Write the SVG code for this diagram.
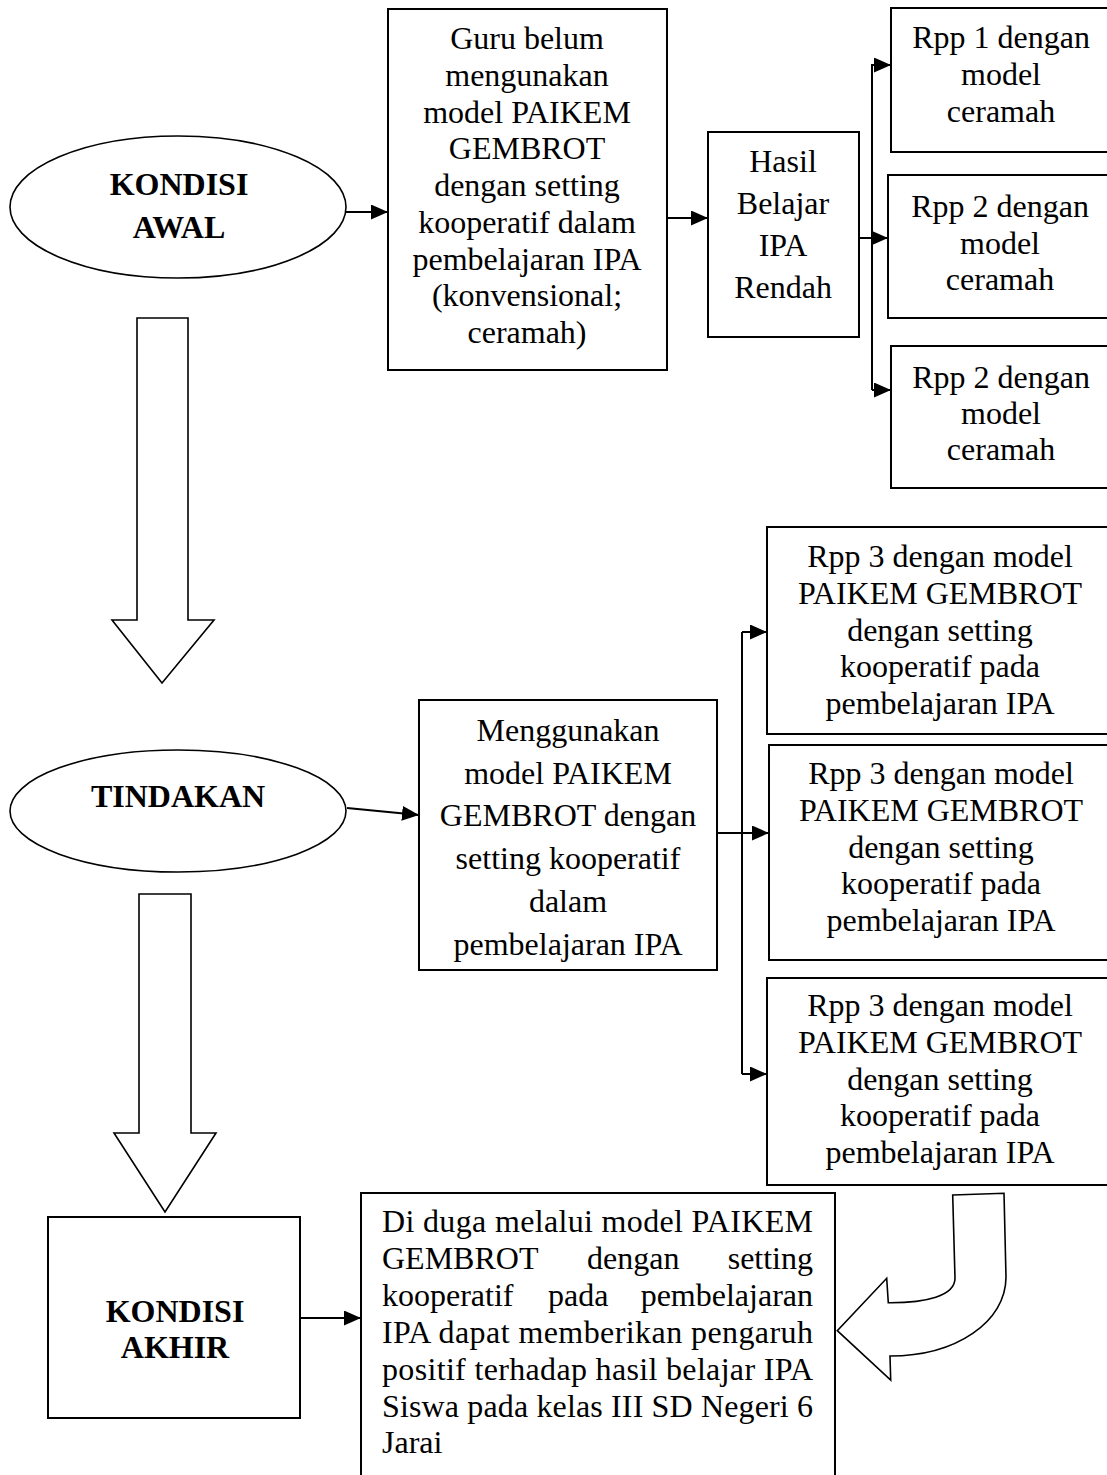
<svg xmlns="http://www.w3.org/2000/svg" width="1107" height="1475" viewBox="0 0 1107 1475">
<style>
.box{fill:#fff;stroke:#000;stroke-width:2}
.shape{fill:#fff;stroke:#000;stroke-width:1.6}
.t{font-family:"Liberation Serif","Times New Roman",serif;font-size:32px;fill:#000}
.c{text-anchor:middle}
.b{font-weight:bold}
.ln{fill:none;stroke:#000;stroke-width:2}
</style>
<defs>
<marker id="ah" markerUnits="userSpaceOnUse" markerWidth="18" markerHeight="16" refX="17" refY="7.5" orient="auto">
<path d="M0,0 L17,7.5 L0,15 z" fill="#000"/>
</marker>
</defs>
<rect width="1107" height="1475" fill="#fff"/>

<g id="kondisi-awal">
<ellipse class="shape" cx="178" cy="207" rx="168" ry="71"/>
<text class="t c b" x="179" y="195">KONDISI</text>
<text class="t c b" x="179" y="238">AWAL</text>
</g>

<g id="guru-belum">
<rect class="box" x="388" y="9" width="279" height="361"/>
<text class="t c" x="527" y="49">Guru belum</text>
<text class="t c" x="527" y="86">mengunakan</text>
<text class="t c" x="527" y="122.5">model PAIKEM</text>
<text class="t c" x="527" y="159">GEMBROT</text>
<text class="t c" x="527" y="196">dengan setting</text>
<text class="t c" x="527" y="233">kooperatif dalam</text>
<text class="t c" x="527" y="269.5">pembelajaran IPA</text>
<text class="t c" x="527" y="306">(konvensional;</text>
<text class="t c" x="527" y="343">ceramah)</text>
</g>

<g id="hasil-belajar">
<rect class="box" x="708" y="132" width="151" height="205"/>
<text class="t c" x="783" y="172">Hasil</text>
<text class="t c" x="783" y="214">Belajar</text>
<text class="t c" x="783" y="256">IPA</text>
<text class="t c" x="783" y="298">Rendah</text>
</g>

<g id="rpp1">
<rect class="box" x="891" y="8" width="221" height="144"/>
<text class="t c" x="1001" y="48">Rpp 1 dengan</text>
<text class="t c" x="1001" y="85">model</text>
<text class="t c" x="1001" y="122">ceramah</text>
</g>
<g id="rpp2a">
<rect class="box" x="888" y="175" width="224" height="143"/>
<text class="t c" x="1000" y="217">Rpp 2 dengan</text>
<text class="t c" x="1000" y="254">model</text>
<text class="t c" x="1000" y="290">ceramah</text>
</g>
<g id="rpp2b">
<rect class="box" x="891" y="346" width="221" height="142"/>
<text class="t c" x="1001" y="388">Rpp 2 dengan</text>
<text class="t c" x="1001" y="424">model</text>
<text class="t c" x="1001" y="460">ceramah</text>
</g>

<g id="arrow-down-1">
<path class="shape" d="M137,318 L188,318 L188,620 L214,620 L162,683 L112,620 L137,620 Z"/>
</g>

<g id="tindakan">
<ellipse class="shape" cx="178" cy="811" rx="168" ry="61"/>
<text class="t c b" x="178" y="807">TINDAKAN</text>
</g>

<g id="menggunakan">
<rect class="box" x="419" y="700" width="298" height="270"/>
<text class="t c" x="568" y="741">Menggunakan</text>
<text class="t c" x="568" y="783.5">model PAIKEM</text>
<text class="t c" x="568" y="826">GEMBROT dengan</text>
<text class="t c" x="568" y="869">setting kooperatif</text>
<text class="t c" x="568" y="912">dalam</text>
<text class="t c" x="568" y="955">pembelajaran IPA</text>
</g>

<g id="rpp3a">
<rect class="box" x="767" y="527" width="345" height="207"/>
<text class="t c" x="940" y="567">Rpp 3 dengan model</text>
<text class="t c" x="940" y="604">PAIKEM GEMBROT</text>
<text class="t c" x="940" y="640.5">dengan setting</text>
<text class="t c" x="940" y="677">kooperatif pada</text>
<text class="t c" x="940" y="714">pembelajaran IPA</text>
</g>
<g id="rpp3b">
<rect class="box" x="769" y="745" width="343" height="215"/>
<text class="t c" x="941" y="784">Rpp 3 dengan model</text>
<text class="t c" x="941" y="821">PAIKEM GEMBROT</text>
<text class="t c" x="941" y="857.5">dengan setting</text>
<text class="t c" x="941" y="894">kooperatif pada</text>
<text class="t c" x="941" y="931">pembelajaran IPA</text>
</g>
<g id="rpp3c">
<rect class="box" x="767" y="978" width="345" height="207"/>
<text class="t c" x="940" y="1016">Rpp 3 dengan model</text>
<text class="t c" x="940" y="1053">PAIKEM GEMBROT</text>
<text class="t c" x="940" y="1089.5">dengan setting</text>
<text class="t c" x="940" y="1126">kooperatif pada</text>
<text class="t c" x="940" y="1163">pembelajaran IPA</text>
</g>

<g id="arrow-down-2">
<path class="shape" d="M139,894 L191,894 L191,1133 L216,1133 L165,1212 L114,1133 L139,1133 Z"/>
</g>

<g id="kondisi-akhir">
<rect class="box" x="48" y="1217" width="252" height="201"/>
<text class="t c b" x="175" y="1322">KONDISI</text>
<text class="t c b" x="175" y="1358">AKHIR</text>
</g>

<g id="kesimpulan">
<rect class="box" x="361" y="1193" width="474" height="300"/>
<text class="t" x="382" y="1232" textLength="431" lengthAdjust="spacing">Di duga melalui model PAIKEM</text>
<text class="t" x="382" y="1269">GEMBROT</text>
<text class="t" x="587" y="1269">dengan</text>
<text class="t" x="813" y="1269" text-anchor="end">setting</text>
<text class="t" x="382" y="1306">kooperatif</text>
<text class="t" x="548" y="1306">pada</text>
<text class="t" x="813" y="1306" text-anchor="end">pembelajaran</text>
<text class="t" x="382" y="1343" textLength="431" lengthAdjust="spacing">IPA dapat memberikan pengaruh</text>
<text class="t" x="382" y="1380" textLength="431" lengthAdjust="spacing">positif terhadap hasil belajar IPA</text>
<text class="t" x="382" y="1417" textLength="431" lengthAdjust="spacing">Siswa pada kelas III SD Negeri 6</text>
<text class="t" x="382" y="1453">Jarai</text>
</g>

<g id="arrow-curved">
<path class="shape" d="M952.7,1195 L1004,1193.3 L1006,1277 C1006,1322 956,1356 890,1356 L890.7,1380 L837.3,1330.7 L886.7,1278.3 L888.3,1302.7 C926,1303 955,1296 955,1278.3 Z"/>
</g>

<g id="connectors">
<line class="ln" x1="346" y1="212" x2="388" y2="212" marker-end="url(#ah)"/>
<line class="ln" x1="667" y1="218" x2="708" y2="218" marker-end="url(#ah)"/>
<line class="ln" x1="859" y1="238" x2="888" y2="238" marker-end="url(#ah)"/>
<polyline class="ln" points="891,65 872,65 872,390"/>
<line class="ln" x1="872" y1="65" x2="891" y2="65" marker-end="url(#ah)"/>
<line class="ln" x1="872" y1="390" x2="891" y2="390" marker-end="url(#ah)"/>
<line class="ln" x1="347" y1="808" x2="419" y2="815" marker-end="url(#ah)"/>
<line class="ln" x1="717" y1="833" x2="769" y2="833" marker-end="url(#ah)"/>
<line class="ln" x1="742" y1="632" x2="742" y2="1074"/>
<line class="ln" x1="742" y1="632" x2="767" y2="632" marker-end="url(#ah)"/>
<line class="ln" x1="742" y1="1074" x2="767" y2="1074" marker-end="url(#ah)"/>
<line class="ln" x1="300" y1="1318" x2="361" y2="1318" marker-end="url(#ah)"/>
</g>
</svg>
